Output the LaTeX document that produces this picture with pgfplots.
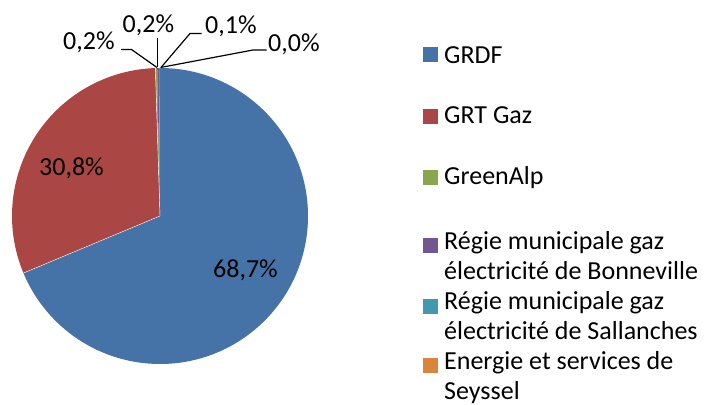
\documentclass[border=0pt]{standalone}
\usepackage{fontspec}
\setmainfont{Carlito}
\usepackage{pgfplots}
\pgfplotsset{compat=1.18}

\definecolor{cGRDF}{HTML}{4572A7}
\definecolor{cGRT}{HTML}{AA4643}
\definecolor{cGreen}{HTML}{89A54E}
\definecolor{cBonne}{HTML}{71588F}
\definecolor{cSall}{HTML}{4198AF}
\definecolor{cSeys}{HTML}{DB843D}

\tikzset{lab/.style={font=\fontsize{26bp}{30bp}\selectfont, inner sep=0pt, anchor=base west}}

\begin{document}
\begin{tikzpicture}
% shares (%) in clockwise order from the top
\def\vA{68.7}\def\vB{30.8}\def\vC{0.2}\def\vD{0.2}\def\vE{0.1}\def\vF{0.0}
\pgfmathsetmacro\aA{90}
\pgfmathsetmacro\aB{\aA-3.6*\vA}
\pgfmathsetmacro\aC{\aB-3.6*\vB}
\pgfmathsetmacro\aD{\aC-3.6*\vC}
\pgfmathsetmacro\aE{\aD-3.6*\vD}
\pgfmathsetmacro\aF{\aE-3.6*\vE}
\pgfmathsetmacro\aG{\aF-3.6*\vF}
\begin{axis}[
  scale only axis, width=707bp, height=405bp,
  xmin=0, xmax=707, ymin=0, ymax=405,
  hide axis, clip=false,
]
\path (axis cs:0,0) rectangle (axis cs:707,405);
% slices
\fill[cGRDF]  (axis cs:160,189) -- ++(\aA:148bp) arc[start angle=\aA, end angle=\aB, radius=148bp] -- cycle;
\fill[cGRT]   (axis cs:160,189) -- ++(\aB:148bp) arc[start angle=\aB, end angle=\aC, radius=148bp] -- cycle;
\fill[cGreen] (axis cs:160,189) -- ++(\aC:148bp) arc[start angle=\aC, end angle=\aD, radius=148bp] -- cycle;
\fill[cBonne] (axis cs:160,189) -- ++(\aD:148bp) arc[start angle=\aD, end angle=\aE, radius=148bp] -- cycle;
\fill[cSall]  (axis cs:160,189) -- ++(\aE:148bp) arc[start angle=\aE, end angle=\aF, radius=148bp] -- cycle;
\draw[white, line width=0.4pt] (axis cs:160,189) -- ++(\aB:148bp);
\draw[white, line width=0.4pt] (axis cs:160,189) -- ++(\aC:148bp);

% data labels
\node[lab] at (axis cs:213,127) {68,7\%};
\node[lab] at (axis cs:39,229) {30,8\%};
\node[lab] at (axis cs:63,355) {0,2\%};
\node[lab] at (axis cs:122.5,372.5) {0,2\%};
\node[lab] at (axis cs:205,371.5) {0,1\%};
\node[lab] at (axis cs:268,353.5) {0,0\%};
\draw[black, line width=1.2pt] (axis cs:121,355.5) -- (axis cs:131.5,355.5) -- (axis cs:157,337.5);
\draw[black, line width=1.2pt] (axis cs:157.7,367) -- (axis cs:157.7,337.5);
\draw[black, line width=1.2pt] (axis cs:161,337.5) -- (axis cs:190,371.5) -- (axis cs:201.5,371.5);
\draw[black, line width=1.2pt] (axis cs:160.5,337.5) -- (axis cs:253,355) -- (axis cs:266.5,355);

% legend
\fill[cGRDF]  (axis cs:423,342.5) rectangle (axis cs:438,357.5);
\node[lab] at (axis cs:444,341.7) {GRDF};
\fill[cGRT]   (axis cs:423,281) rectangle (axis cs:438,296);
\node[lab] at (axis cs:444,281) {GRT Gaz};
\fill[cGreen] (axis cs:423,220) rectangle (axis cs:438,235);
\node[lab] at (axis cs:444,220) {GreenAlp};
\fill[cBonne] (axis cs:423,152) rectangle (axis cs:438,167);
\node[lab, align=left] at (axis cs:444,125.5) {Régie municipale gaz\\électricité de Bonneville};
\fill[cSall]  (axis cs:423,91) rectangle (axis cs:438,106);
\node[lab, align=left] at (axis cs:444,65.7) {Régie municipale gaz\\électricité de Sallanches};
\fill[cSeys]  (axis cs:423,32) rectangle (axis cs:438,47);
\node[lab, align=left] at (axis cs:444,5.7) {Energie et services de\\Seyssel};
\end{axis}
\end{tikzpicture}
\end{document}
